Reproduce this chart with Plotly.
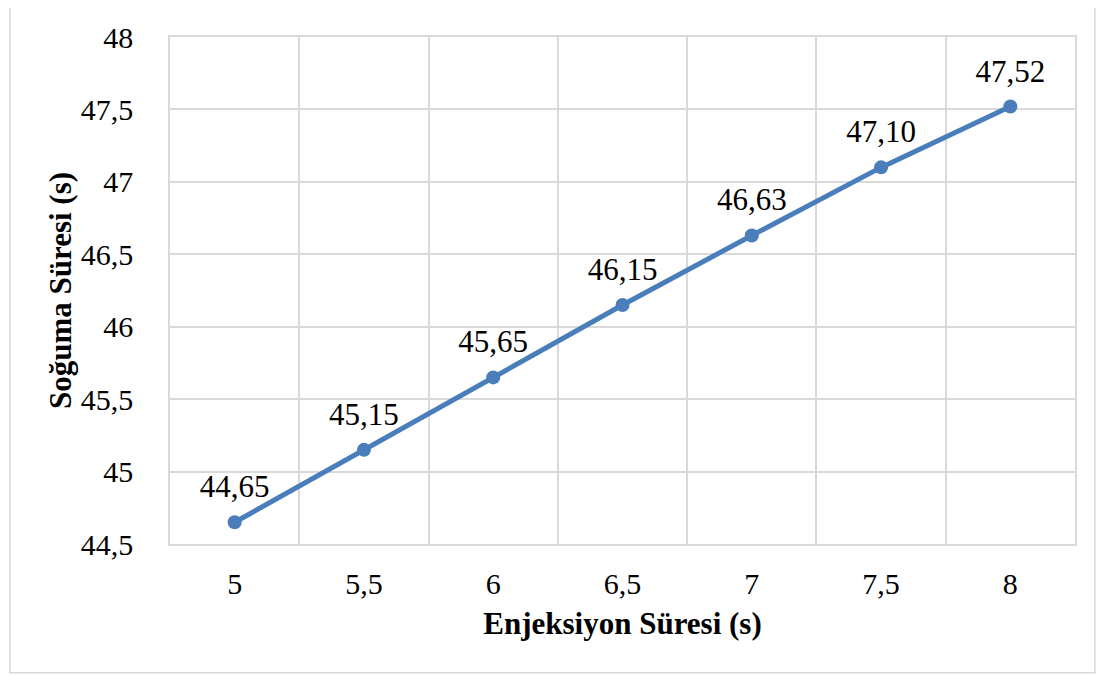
import plotly.graph_objects as go

# Enjeksiyon süresi (s) categories and soğuma süresi (s) values
injection_labels = ["5", "5,5", "6", "6,5", "7", "7,5", "8"]
cooling_times = [44.65, 45.15, 45.65, 46.15, 46.63, 47.10, 47.52]

y_ticks = [44.5, 45, 45.5, 46, 46.5, 47, 47.5, 48]

LINE_BLUE = "#4a7ebb"
GRID = "#d9d9d9"
FONT = "Liberation Serif"

fig = go.Figure()
fig.add_scatter(
    x=injection_labels,
    y=cooling_times,
    mode="lines+markers",
    line={"color": LINE_BLUE, "width": 5},
    marker={"color": LINE_BLUE, "size": 14},
    showlegend=False,
    hoverinfo="skip",
)
# data labels, pushed a bit further above the markers
fig.add_scatter(
    x=injection_labels,
    y=cooling_times,
    mode="markers+text",
    marker={"color": "rgba(0,0,0,0)", "size": 26},
    texttemplate="%{y:.2f}",
    textposition="top center",
    textfont={"family": FONT, "size": 31, "color": "#000000"},
    cliponaxis=False,
    showlegend=False,
)

fig.update_layout(
    width=1105,
    height=675,
    separators=",.",
    paper_bgcolor="white",
    plot_bgcolor="white",
    font={"family": FONT, "size": 30, "color": "#000000"},
    margin={"l": 162, "r": 38, "t": 29, "b": 139},
    shapes=[
        {
            "type": "rect",
            "xref": "paper",
            "yref": "paper",
            "x0": -0.177,
            "x1": 1.022,
            "y0": -0.254,
            "y1": 1.063,
            "line": {"color": GRID, "width": 1.5},
            "layer": "below",
        }
    ],
)

fig.update_xaxes(
    type="category",
    range=[-0.5, 6.5],
    tickson="boundaries",
    showgrid=True,
    gridcolor=GRID,
    gridwidth=1.5,
    showline=True,
    linecolor=GRID,
    linewidth=1.5,
    mirror=True,
    ticks="",
    ticklabelstandoff=12,
    zeroline=False,
    title={
        "text": "<b>Enjeksiyon Süresi (s)</b>",
        "font": {"family": FONT, "size": 31},
        "standoff": 14,
    },
)
fig.update_yaxes(
    range=[44.5, 48],
    tickvals=y_ticks,
    tickformat="~r",
    showgrid=True,
    gridcolor=GRID,
    gridwidth=1.5,
    showline=True,
    linecolor=GRID,
    linewidth=1.5,
    mirror=True,
    ticks="",
    ticklabelstandoff=29,
    zeroline=False,
    title={
        "text": "<b>Soğuma Süresi (s)</b>",
        "font": {"family": FONT, "size": 31},
        "standoff": 0,
    },
)

fig.write_html("out.html")
